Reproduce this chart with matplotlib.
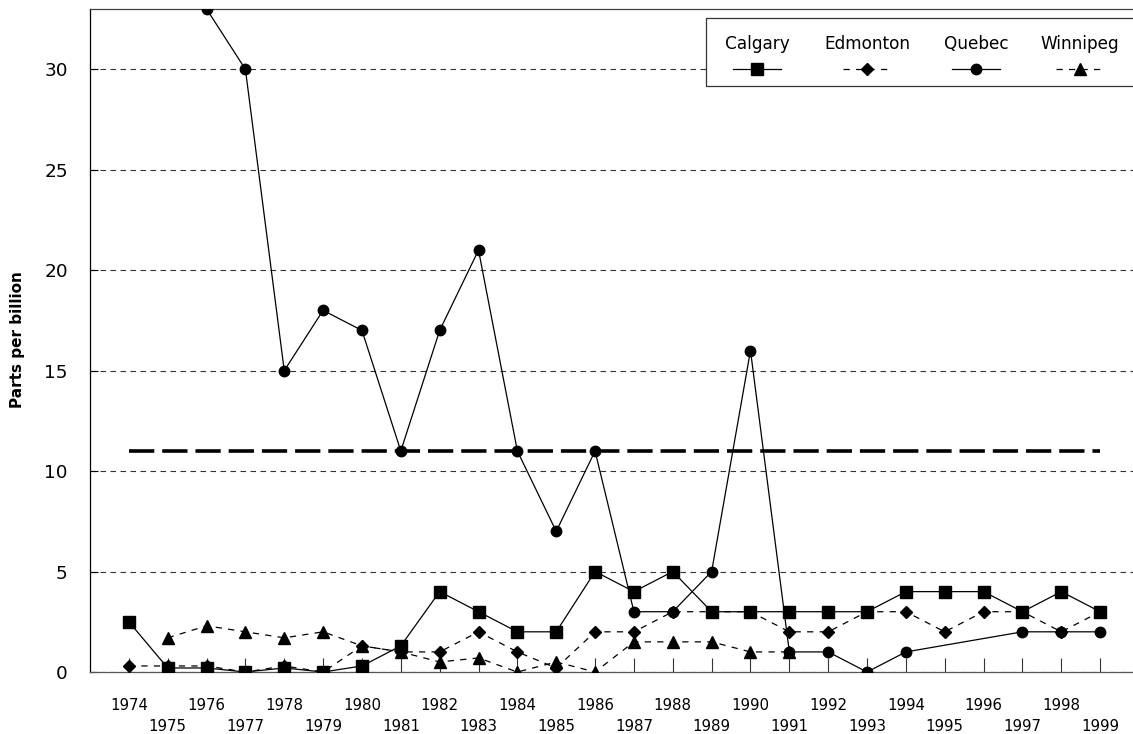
import numpy as np
import matplotlib
matplotlib.use('Agg')
import matplotlib.pyplot as plt
from matplotlib.lines import Line2D
from matplotlib.patches import Rectangle

plt.rcParams['font.family'] = ['DejaVu Sans']

years = list(range(1974, 2000))
calgary = [2.5, 0.2, 0.2, 0, 0.2, 0, 0.3, 1.3, 4, 3, 2, 2, 5,
           4, 5, 3, 3, 3, 3, 3, 4, 4, 4, 3, 4, 3]
edmonton = [0.3, 0.3, 0.3, 0, 0.3, 0, 1.3, 1.0, 1.0, 2, 1, 0.2, 2,
            2, 3, 3, 3, 2, 2, 3, 3, 2, 3, 3, 2, 3]
quebec = [None, None, 33, 30, 15, 18, 17, 11, 17, 21, 11, 7, 11,
          3, 3, 5, 16, 1, 1, 0, 1, None, None, 2, 2, 2]
winnipeg = [None, 1.7, 2.3, 2.0, 1.7, 2.0, 1.3, 1.0, 0.5, 0.7, 0, 0.5, 0,
            1.5, 1.5, 1.5, 1.0, 1.0, None, None, None, None, None, None, None, None]
guideline = 11

cities = ['Calgary', 'Edmonton', 'Quebec', 'Winnipeg']
series = [calgary, edmonton, quebec, winnipeg]
styles = [
    dict(marker='s', ms=8, linestyle='-'),
    dict(marker='D', ms=6.3, linestyle=(0, (5, 5))),
    dict(marker='o', ms=7.5, linestyle='-'),
    dict(marker='^', ms=8.5, linestyle=(0, (5, 5))),
]

W, H = 1133, 734
fig = plt.figure(figsize=(W / 100, H / 100), dpi=100)


def fx(x):
    return x / W


def fy(y):
    return 1 - y / H


ax = fig.add_axes([fx(90), fy(672), (1139 - 90) / W, (672 - 9) / H])

for vals, st in zip(series, styles):
    # skip missing years, the line joins the remaining points
    xs = [y for y, v in zip(years, vals) if v is not None]
    ys = [v for v in vals if v is not None]
    ax.plot(xs, ys, color='black', lw=0.9, mfc='black', mec='black', zorder=3, **st)

ax.plot([years[0], years[-1]], [guideline, guideline], color='black', lw=2.6,
        linestyle=(0, (7, 2.2)), zorder=2)

ax.set_xlim(1973, 2000)
ax.set_ylim(0, 33)
ax.set_yticks([0, 5, 10, 15, 20, 25, 30])
ax.yaxis.grid(True, color='#333333', lw=0.8, linestyle=(0, (5, 4)))
ax.set_axisbelow(True)

ax.set_xticks([y for y in years if y % 2 == 0])
ax.set_xticks([y for y in years if y % 2 == 1], minor=True)
ax.set_xticklabels([str(y) for y in years if y % 2 == 0])
ax.set_xticklabels([str(y) for y in years if y % 2 == 1], minor=True)
ax.tick_params(axis='x', which='major', direction='in', length=10, width=0.8,
               color='#333333', pad=19, labelsize=10.8)
ax.tick_params(axis='x', which='minor', direction='in', length=10, width=0.8,
               color='#333333', pad=33.5, labelsize=10.8)
ax.tick_params(axis='y', direction='in', length=6, width=0.8, pad=16, labelsize=13.3)

ax.spines['right'].set_visible(False)
ax.spines['bottom'].set_color('#555555')
ax.spines['top'].set_color('#444444')
ax.spines['left'].set_color('black')
for s in ax.spines.values():
    s.set_linewidth(0.9)

fig.text(fx(18), fy(340), 'Parts per billion', rotation=90, ha='center', va='center',
         fontsize=11, fontweight='bold')

# legend box: labels above their line samples
fig.add_artist(Rectangle((fx(706), fy(86)), fx(1145) - fx(706), fy(18) - fy(86),
                         transform=fig.transFigure, facecolor='white',
                         edgecolor='#333333', lw=0.9, zorder=5))
centers = [757, 867, 976, 1080]
for name, st, cx in zip(cities, styles, centers):
    fig.text(fx(cx), fy(44), name, ha='center', va='center', fontsize=12.2, zorder=6)
    fig.add_artist(Line2D([fx(cx - 24), fx(cx + 24)], [fy(69), fy(69)],
                          transform=fig.transFigure, color='black', lw=0.9,
                          linestyle=st['linestyle'], zorder=6))
    fig.add_artist(Line2D([fx(cx)], [fy(69)], transform=fig.transFigure,
                          marker=st['marker'], ms=st['ms'], color='black',
                          linestyle='none', zorder=7))

fig.savefig('out.png', dpi=100)
